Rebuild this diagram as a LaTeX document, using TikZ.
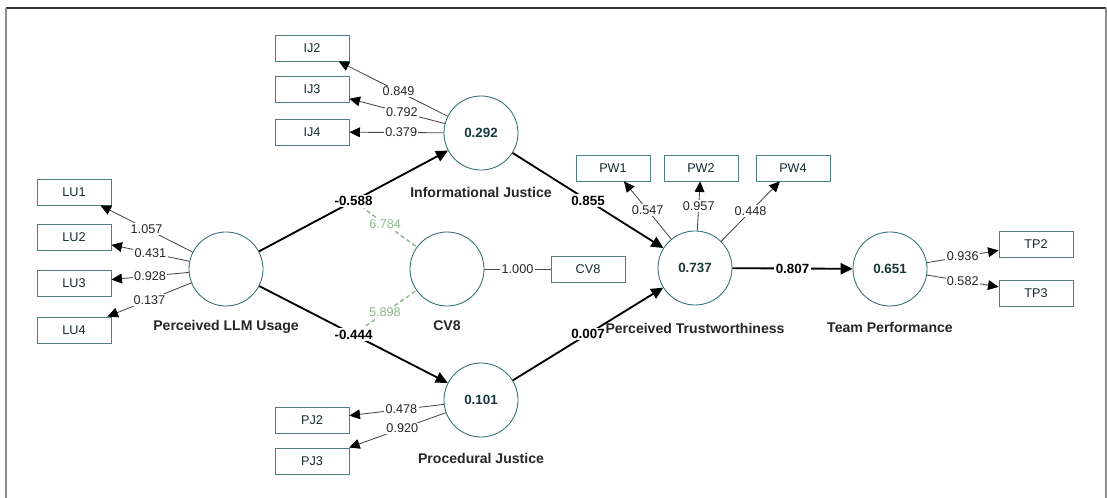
\documentclass[tikz,border=0pt]{standalone}
\usepackage{fontspec}
\setmainfont{Liberation Sans}
\usetikzlibrary{arrows.meta,calc}
\definecolor{latteal}{HTML}{2F6F72}
\definecolor{boxteal}{HTML}{4E7F80}
\definecolor{ctrgreen}{HTML}{8DB88D}
\begin{document}
\begin{tikzpicture}[x=0.025cm,y=-0.025cm,
  latent/.style={circle,draw=latteal,line width=0.6pt,minimum size=1.85cm,inner sep=0pt,
    font=\fontsize{9.5}{11}\selectfont\bfseries,text=latteal!50!black},
  indic/.style={rectangle,draw=boxteal,line width=0.6pt,minimum width=1.85cm,minimum height=0.65cm,
    inner sep=0pt,font=\fontsize{9}{10}\selectfont,text=latteal!40!black},
  lvname/.style={font=\fontsize{10}{12}\selectfont\bfseries,text=black!85},
  outer/.style={draw=black!72,line width=0.6pt,-{Triangle[length=7.5pt,width=7pt,color=black]}},
  inner/.style={draw=black,line width=1.3pt,-{Triangle[length=8.5pt,width=8pt]}},
  wt/.style={fill=white,inner sep=1pt,font=\fontsize{9}{10}\selectfont,text=black!85},
  pathwt/.style={fill=white,inner sep=1pt,font=\fontsize{9.5}{11}\selectfont\bfseries},
  ctrl/.style={draw=ctrgreen,dash pattern=on 3pt off 2pt,line width=1pt,shorten <=1pt,shorten >=9pt},
  ctrlwt/.style={fill=white,inner sep=1pt,font=\fontsize{9}{10}\selectfont,text=ctrgreen}
]
\useasboundingbox (0,0) rectangle (1107,498);
\fill[white] (0,0) rectangle (1107,498);
% frame
\draw[black!80,line width=1pt] (6,8) -- (1106,8);
\draw[black!45,line width=1.3pt] (6,8) -- (6,520);
\draw[black!45,line width=1.3pt] (1106,8) -- (1106,520);

% latent variables
\node[latent] (llm) at (226,269) {};
\node[latent] (ij) at (481,133) {0.292};
\node[latent] (cv) at (447,269) {};
\node[latent] (pj) at (481,400) {0.101};
\node[latent] (pt) at (695,268) {0.737};
\node[latent] (tp) at (890,269) {0.651};

\node[lvname] (llmname) at (226,327) {Perceived LLM Usage};
\node[lvname] (ijname) at (481,192) {Informational Justice};
\node[lvname] (cvname) at (447,326) {CV8};
\node[lvname] (pjname) at (481,458) {Procedural Justice};
\node[lvname] (ptname) at (695,328) {Perceived Trustworthiness};
\node[lvname] (tpname) at (890,327) {Team Performance};

% indicators
\node[indic] (lu1) at (74,192) {LU1};
\node[indic] (lu2) at (74,237) {LU2};
\node[indic] (lu3) at (74,283) {LU3};
\node[indic] (lu4) at (74,330) {LU4};
\node[indic] (ij2) at (312,48) {IJ2};
\node[indic] (ij3) at (312,89) {IJ3};
\node[indic] (ij4) at (312,132) {IJ4};
\node[indic] (pj2) at (312,420) {PJ2};
\node[indic] (pj3) at (312,461) {PJ3};
\node[indic] (cvb) at (588,269) {CV8};
\node[indic] (pw1) at (613,168) {PW1};
\node[indic] (pw2) at (701,168) {PW2};
\node[indic] (pw4) at (793,168) {PW4};
\node[indic] (tp2) at (1036,244) {TP2};
\node[indic] (tp3) at (1036,293) {TP3};

% outer loadings
\draw[outer] (llm) -- node[wt]{1.057} (lu1);
\draw[outer] (llm) -- node[wt]{0.431} (lu2);
\draw[outer] (llm) -- node[wt]{0.928} (lu3);
\draw[outer] (llm) -- node[wt]{0.137} (lu4);
\draw[outer] (ij) -- node[wt,pos=0.45]{0.849} (ij2);
\draw[outer] (ij) -- node[wt,pos=0.45]{0.792} (ij3);
\draw[outer] (ij) -- node[wt,pos=0.45]{0.379} (ij4);
\draw[outer] (pj) -- node[wt,pos=0.45]{0.478} (pj2);
\draw[outer] (pj) -- node[wt,pos=0.45]{0.920} (pj3);
\draw[outer] (pt) -- node[wt]{0.547} (pw1);
\draw[outer] (pt) -- node[wt]{0.957} (pw2);
\draw[outer] (pt) -- node[wt]{0.448} (pw4);
\draw[outer] (tp) -- node[wt]{0.936} (tp2);
\draw[outer] (tp) -- node[wt]{0.582} (tp3);
\draw[draw=black!72,line width=0.6pt] (cv) -- node[wt]{1.000} (cvb);

% control variable
\coordinate (m1) at ($(llm)!0.5!(ij)$);
\coordinate (m2) at ($(llm)!0.5!(pj)$);
\draw[ctrl] (cv) -- node[ctrlwt]{6.784} (m1);
\draw[ctrl] (cv) -- node[ctrlwt]{5.898} (m2);

% inner model
\draw[inner] (llm) -- node[pathwt]{-0.588} (ij);
\draw[inner] (llm) -- node[pathwt]{-0.444} (pj);
\draw[inner] (ij) -- node[pathwt]{0.855} (pt);
\draw[inner] (pj) -- node[pathwt]{0.007} (pt);
\draw[inner] (pt) -- node[pathwt]{0.807} (tp);
\end{tikzpicture}
\end{document}
